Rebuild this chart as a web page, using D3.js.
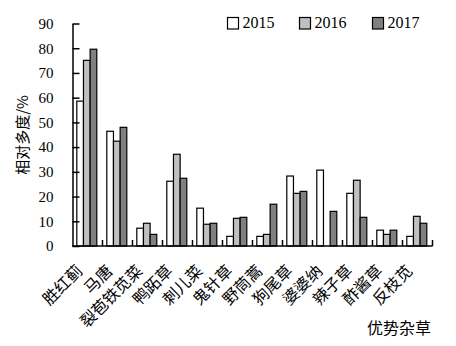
<!DOCTYPE html>
<html>
<head>
<meta charset="utf-8">
<script src="https://cdn.jsdelivr.net/npm/d3@7/dist/d3.min.js"></script>
<style>
  html, body { margin: 0; padding: 0; background: #fff; }
  svg { display: block; }
</style>
</head>
<body>
<svg id="chart" width="456" height="346"></svg>
<script>
// Dominant weed species and their relative abundance (%) per year
const categories = ["胜红蓟", "马唐", "裂苞铁苋菜", "鸭跖草", "刺儿菜", "鬼针草",
                    "野茼蒿", "狗尾草", "婆婆纳", "辣子草", "酢酱草", "反枝苋"];
const years = ["2015", "2016", "2017"];
const values2015 = [58.6, 46.4, 7.2, 26.2, 15.3, 3.9, 3.9, 28.3, 30.7, 21.3, 6.4, 3.9];
const values2016 = [75.1, 42.4, 9.2, 37.1, 8.8, 11.2, 4.7, 21.3, 0, 26.6, 4.7, 12.0];
const values2017 = [79.6, 48.0, 4.7, 27.4, 9.2, 11.6, 16.9, 22.1, 14.0, 11.6, 6.4, 9.2];
const yTicks = [0, 10, 20, 30, 40, 50, 60, 70, 80, 90];
const fills = ["#ffffff", "#c0c0c0", "#808080"];

const series = [values2015, values2016, values2017];
const rows = categories.map((c, i) => ({ name: c, vals: series.map(s => s[i]) }));

const svg = d3.select("#chart");
const plotLeft = 72.5, plotRight = 432.5, plotTop = 23.5, plotBottom = 246;

const x = d3.scaleBand().domain(categories).range([plotLeft, plotRight]).padding(0);
const xi = d3.scaleBand().domain(years).range([4.3, 24.3]).padding(0);
const y = d3.scaleLinear().domain([0, 90]).range([plotBottom, plotTop]);

const serif = "'Liberation Serif', 'Times New Roman', serif";
const cjk = "'Noto Sans CJK SC', sans-serif";

// Bars
const g = svg.append("g");
rows.forEach(r => {
  years.forEach((yr, j) => {
    const v = r.vals[j];
    if (v <= 0) return;
    g.append("rect")
      .attr("x", x(r.name) + xi(yr))
      .attr("y", y(v))
      .attr("width", xi.bandwidth())
      .attr("height", y(0) - y(v))
      .attr("fill", fills[j])
      .attr("stroke", "#000")
      .attr("stroke-width", 1.2);
  });
});

// Y axis with inward ticks
const yAxis = svg.append("g")
  .attr("transform", `translate(${plotLeft},0)`)
  .call(d3.axisLeft(y).tickValues(yTicks).tickSizeInner(-7).tickSizeOuter(0).tickPadding(19));
yAxis.select(".domain").attr("stroke", "#000").attr("stroke-width", 1.5);
yAxis.selectAll(".tick line").attr("stroke", "#000").attr("stroke-width", 1.5);
yAxis.selectAll(".tick text")
  .attr("font-family", serif).attr("font-size", 15).attr("fill", "#000");

// X axis line and category boundary ticks
svg.append("line")
  .attr("x1", plotLeft).attr("x2", plotRight)
  .attr("y1", y(0)).attr("y2", y(0))
  .attr("stroke", "#000").attr("stroke-width", 1.5);
const bounds = categories.slice(1).map(c => x(c)).concat([plotRight]);
svg.selectAll(".xtick").data(bounds).enter().append("line")
  .attr("x1", d => d).attr("x2", d => d)
  .attr("y1", y(0)).attr("y2", y(0) - 6)
  .attr("stroke", "#000").attr("stroke-width", 1.5);

// Category labels, rotated
svg.selectAll(".xlab").data(categories).enter().append("text")
  .attr("transform", d => `translate(${x(d) + x.bandwidth() / 2 - 4},${y(0) + 26}) rotate(-45)`)
  .attr("text-anchor", "end")
  .attr("font-family", cjk).attr("font-size", 16).attr("fill", "#000")
  .text(d => d);

// Axis titles
svg.append("text")
  .attr("transform", `translate(28,${(93 + 177) / 2}) rotate(-90)`)
  .attr("text-anchor", "middle")
  .attr("font-family", cjk).attr("font-size", 15).attr("fill", "#000")
  .text("相对多度/%");
svg.append("text")
  .attr("x", 431).attr("y", 334)
  .attr("text-anchor", "end")
  .attr("font-family", cjk).attr("font-size", 16).attr("fill", "#000")
  .text("优势杂草");

// Legend
const legX = [227.5, 299.5, 372.5];
years.forEach((yr, j) => {
  svg.append("rect")
    .attr("x", legX[j]).attr("y", 17.5)
    .attr("width", 11).attr("height", 11.5)
    .attr("fill", fills[j]).attr("stroke", "#000").attr("stroke-width", 1.2);
  svg.append("text")
    .attr("x", legX[j] + 15).attr("y", 28)
    .attr("font-family", serif).attr("font-size", 16).attr("fill", "#000")
    .text(yr);
});
</script>
</body>
</html>
